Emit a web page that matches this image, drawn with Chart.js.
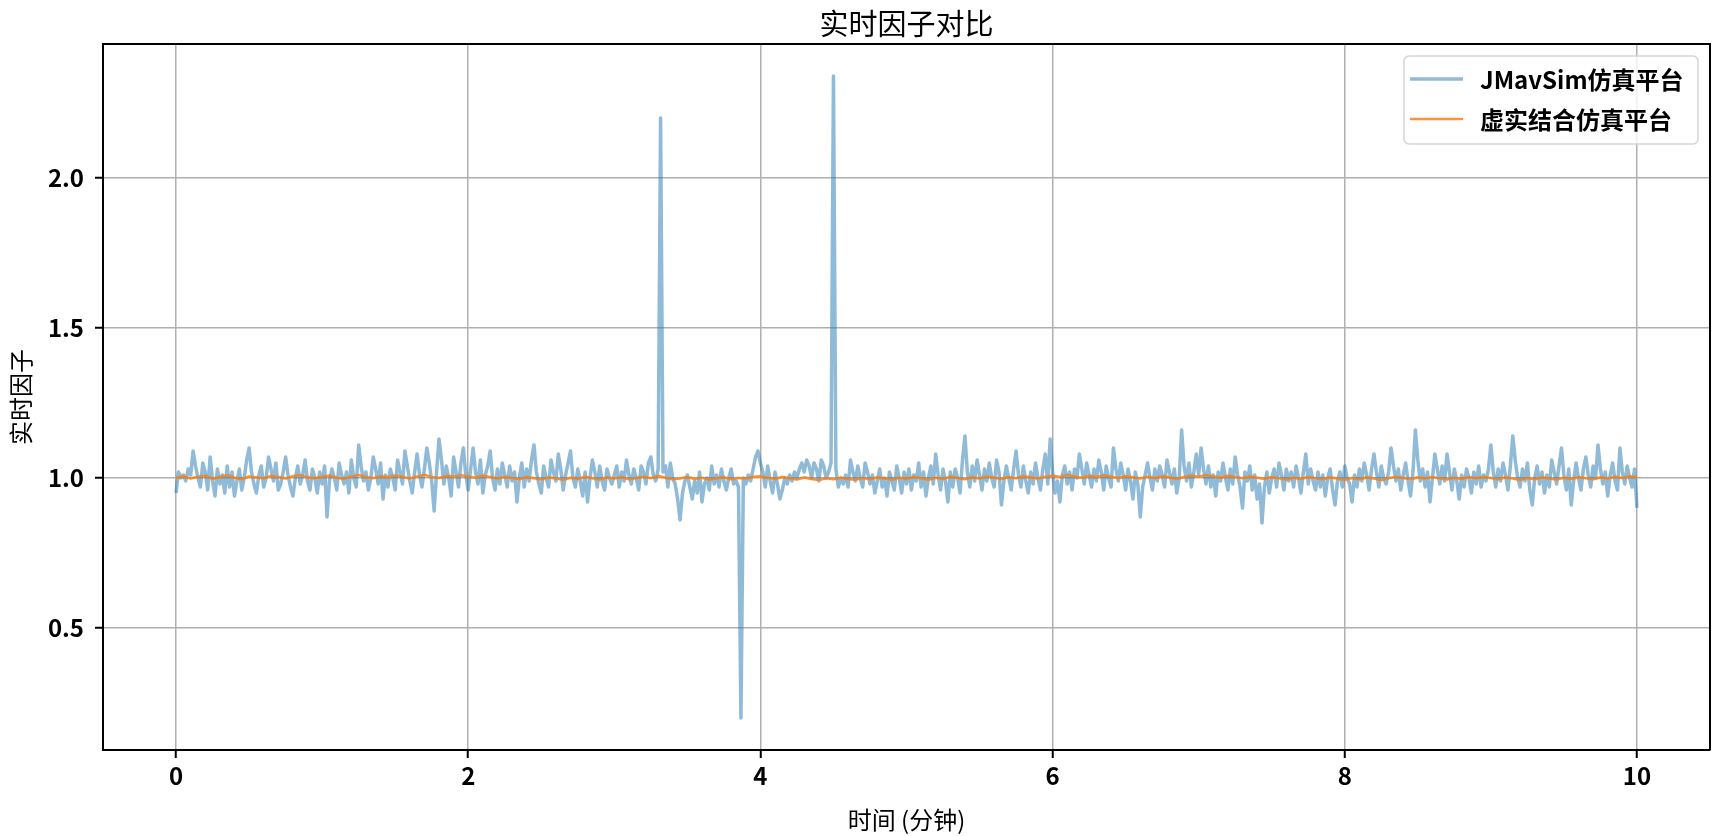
<!DOCTYPE html>
<html>
<head>
<meta charset="utf-8">
<script src="https://cdn.jsdelivr.net/npm/chart.js@4/dist/chart.umd.min.js"></script>
<style>
  html, body { margin: 0; padding: 0; background: #fff; }
  #wrap { width: 1719px; height: 836px; }
</style>
</head>
<body>
<div id="wrap"><canvas id="c" width="1719" height="836"></canvas></div>
<script>
// ---------------- DATA ----------------
const TITLE = '实时因子对比';
const X_LABEL = '时间 (分钟)';
const Y_LABEL = '实时因子';
const SERIES_NAMES = ['JMavSim仿真平台', '虚实结合仿真平台'];

const X_TICKS = [0, 2, 4, 6, 8, 10];
const Y_TICKS = [0.5, 1.0, 1.5, 2.0];

// JMavSim: one sample per second (minutes 0 .. 10)
const JMAVSIM_STEP_MIN = 1 / 60;
const jmavsimValues = [
  0.95,1.02,1.00,1.01,0.99,1.03,1.01,1.09,1.04,1.00,
  0.97,1.05,1.02,0.96,1.07,0.99,0.94,1.03,0.98,1.01,
  0.95,1.04,0.97,1.02,0.94,0.99,1.03,0.96,1.00,1.06,
  1.10,1.02,0.98,0.95,1.01,1.04,0.97,1.00,1.07,1.03,
  0.99,1.05,0.96,0.98,1.02,1.07,1.01,0.97,0.94,1.00,
  1.04,0.98,1.01,1.06,0.99,0.96,1.03,1.00,0.95,1.02,
  0.98,1.04,0.87,0.99,1.03,1.00,0.96,1.05,1.01,0.98,
  1.02,0.95,1.06,1.00,0.97,1.11,1.04,0.99,1.02,0.96,
  1.00,1.07,1.03,0.98,1.05,0.93,1.01,0.97,1.03,1.00,
  0.96,1.06,1.02,0.98,1.09,1.04,0.99,0.95,1.02,1.08,
  1.01,0.97,1.03,1.10,1.05,0.99,0.89,1.02,1.13,1.06,
  0.98,1.04,1.00,0.94,1.07,1.02,0.97,1.05,1.10,1.01,
  0.96,1.03,1.10,1.02,0.98,1.06,0.95,1.01,1.04,1.09,
  1.00,0.96,1.03,0.98,1.05,1.01,0.97,1.04,0.99,1.02,
  0.92,1.00,1.05,0.97,1.03,0.99,1.06,1.11,1.02,0.98,
  0.95,1.04,1.00,0.97,1.06,1.02,0.99,1.08,1.03,0.96,
  1.01,1.05,1.09,1.00,0.97,1.03,0.99,0.94,1.02,0.92,
  1.00,1.06,1.02,0.97,1.04,0.99,0.96,1.03,1.00,0.98,
  1.01,1.04,0.97,1.02,0.99,1.06,1.01,0.98,1.03,1.00,
  0.96,1.04,1.02,0.98,1.05,1.07,1.01,0.99,1.03,2.20,
  1.02,1.04,0.97,1.05,1.00,0.98,0.93,0.86,0.95,0.99,
  1.01,0.97,0.93,0.99,0.95,1.02,0.92,0.98,1.00,0.96,
  1.04,0.98,1.01,0.97,1.03,0.99,0.96,1.00,1.03,0.98,
  0.99,0.97,0.20,1.00,0.98,1.01,0.99,1.03,1.07,1.09,
  1.05,1.02,0.97,1.04,0.99,0.95,1.02,0.98,0.93,0.96,
  1.00,0.98,1.01,0.99,1.02,1.00,1.03,1.05,1.02,1.06,
  1.04,1.00,1.05,1.03,0.99,1.06,1.04,1.00,1.02,1.05,
  2.34,1.03,0.97,1.00,0.98,1.01,0.97,1.06,1.02,0.99,
  1.04,1.00,0.97,1.05,1.02,0.98,1.01,0.95,0.99,1.03,
  0.97,1.00,0.94,1.02,0.99,0.96,1.04,1.00,0.95,1.02,
  0.98,1.03,0.96,1.01,0.99,1.05,0.97,1.02,0.94,1.00,
  1.04,0.98,1.08,1.01,0.96,1.03,0.99,0.92,1.02,0.97,
  1.03,1.00,0.95,1.06,1.14,1.02,0.97,1.04,0.99,1.06,
  1.01,0.96,1.03,0.99,1.05,1.00,0.97,1.06,1.02,0.91,
  0.99,1.04,1.00,0.96,1.03,1.09,1.01,0.97,1.04,0.99,
  0.95,1.02,0.98,1.05,1.00,0.96,1.03,1.08,0.98,1.13,
  1.02,0.95,0.99,0.92,1.01,1.04,0.98,1.02,0.96,1.03,
  1.00,1.08,1.03,0.98,1.05,1.01,0.97,1.03,0.99,1.06,
  1.02,0.96,1.04,1.00,0.97,1.10,1.03,0.99,1.05,1.01,
  0.96,1.03,0.99,0.93,1.02,0.98,0.87,0.97,1.01,1.05,
  1.00,0.96,1.03,0.99,1.04,1.01,0.97,1.06,1.02,0.98,
  1.03,0.95,1.00,1.16,1.04,0.99,1.05,0.97,1.02,1.08,
  1.01,1.10,1.03,0.98,1.04,0.97,1.01,0.94,1.02,0.99,
  1.05,1.00,0.96,1.03,0.98,1.07,1.01,0.97,0.90,1.02,
  0.99,1.04,0.96,1.01,0.93,0.98,0.85,0.97,1.02,0.95,
  1.00,1.03,0.97,1.05,1.01,0.96,1.03,0.99,1.02,0.97,
  1.04,1.00,0.95,1.02,1.08,0.98,1.03,0.99,0.96,1.02,
  0.97,1.01,0.94,1.00,1.03,0.96,0.91,0.99,1.02,0.97,
  1.04,1.00,0.98,0.92,1.01,0.97,1.03,0.99,1.05,1.01,
  0.96,1.03,1.08,1.02,0.97,1.04,1.00,0.98,1.02,1.10,
  1.04,0.99,1.03,0.96,1.01,1.05,0.99,0.94,1.02,1.16,
  1.06,0.99,1.03,0.97,1.02,0.92,1.00,1.08,1.03,0.98,
  1.04,0.99,1.08,1.02,0.96,1.03,0.99,0.93,1.01,0.97,
  1.03,1.00,0.95,1.02,0.98,1.04,0.97,1.01,0.99,1.03,
  1.11,1.02,0.97,1.03,0.99,1.05,1.01,0.96,1.04,1.14,
  1.06,1.00,0.97,1.03,0.99,1.05,0.96,0.91,1.00,1.04,
  0.98,1.02,0.95,1.01,0.97,1.06,1.02,0.98,1.04,1.10,
  1.01,0.96,1.03,0.91,0.99,1.05,1.00,0.96,1.03,1.07,
  1.01,0.97,1.04,1.00,1.11,1.03,0.98,1.02,0.94,1.01,
  1.05,0.99,0.96,1.10,1.02,0.98,1.04,1.00,0.97,1.03,
  0.90
];

// 虚实结合: one sample every 3 seconds (minutes 0 .. 10)
const HYBRID_STEP_MIN = 3 / 60;
const hybridValues = [
  1.000,1.006,0.998,1.004,1.008,0.997,1.003,1.009,1.001,0.996,1.005,1.002,0.999,1.007,1.003,0.998,1.006,1.010,1.002,0.999,
  1.004,1.008,1.001,0.997,1.005,1.010,1.003,0.999,1.006,1.002,1.008,1.004,0.998,1.005,1.011,1.003,1.000,1.007,1.004,1.009,
  1.005,1.001,1.008,1.003,0.998,1.004,1.000,0.996,1.003,0.999,0.995,1.002,0.998,0.994,1.001,0.997,1.004,0.999,0.995,1.002,
  0.998,1.003,0.996,1.000,1.005,0.999,1.007,1.001,0.996,0.998,1.003,0.997,1.001,0.995,0.999,1.002,0.996,1.000,0.998,1.004,
  1.006,1.001,0.997,1.003,0.999,0.995,1.002,0.997,0.993,0.999,0.996,1.001,0.997,0.994,1.000,0.996,1.002,0.998,0.995,1.001,
  0.997,1.003,0.999,0.994,1.001,0.997,1.004,1.000,0.996,1.002,0.998,1.005,1.001,0.997,1.003,0.999,1.006,1.002,0.998,1.004,
  1.008,1.003,1.010,1.005,1.001,1.007,1.003,1.009,1.004,1.000,1.006,1.002,0.998,1.004,1.000,1.006,1.002,0.997,1.003,1.008,
  1.004,1.010,1.006,1.001,1.007,1.003,0.999,1.005,1.001,0.997,1.003,0.999,0.995,1.001,0.997,1.003,0.999,0.996,1.002,0.998,
  0.994,1.000,0.996,1.002,0.998,0.993,0.999,1.004,1.000,0.996,1.002,0.998,1.003,0.999,0.995,1.001,0.997,1.003,0.999,1.004,
  1.000,0.996,1.002,0.998,0.994,1.000,0.996,1.002,0.998,0.995,1.001,0.997,1.003,0.999,0.996,1.002,0.998,1.004,1.000,1.006,
  1.003
];

// ---------------- STYLE ----------------
const FONT = "'Noto Sans CJK SC', 'Noto Sans', 'DejaVu Sans', sans-serif";
const BLUE = 'rgba(31,119,180,0.5)';
const ORANGE = 'rgba(255,127,14,0.85)';
const TICK_SIZE = 24;
const LABEL_SIZE = 24;
const TITLE_SIZE = 29;
const LEGEND_SIZE = 24;

// y range: data span with 5% margins
const allY = jmavsimValues.concat(hybridValues);
const yMinData = Math.min(...allY), yMaxData = Math.max(...allY);
const yPad = (yMaxData - yMinData) * 0.05;

const toPoints = (vals, step) => vals.map((v, i) => ({ x: i * step, y: v }));

const framePlugin = {
  id: 'frame',
  afterDatasetsDraw(chart) {
    const { ctx, chartArea: a } = chart;
    ctx.save();
    // top & right spines
    ctx.strokeStyle = '#000';
    ctx.lineWidth = 2;
    ctx.beginPath();
    ctx.moveTo(a.left, a.top);
    ctx.lineTo(a.right, a.top);
    ctx.lineTo(a.right, a.bottom);
    ctx.stroke();

    // title centred over the axes
    ctx.fillStyle = '#000';
    ctx.font = `normal ${TITLE_SIZE}px ${FONT}`;
    ctx.textAlign = 'center';
    ctx.textBaseline = 'middle';
    ctx.fillText(TITLE, (a.left + a.right) / 2, a.top - 20);

    // legend (matplotlib style, upper right inside axes)
    const w = 294, h = 88;
    const x0 = a.right - 12 - w, y0 = a.top + 12;
    const r = 5;
    ctx.beginPath();
    ctx.moveTo(x0 + r, y0);
    ctx.lineTo(x0 + w - r, y0);
    ctx.arcTo(x0 + w, y0, x0 + w, y0 + r, r);
    ctx.lineTo(x0 + w, y0 + h - r);
    ctx.arcTo(x0 + w, y0 + h, x0 + w - r, y0 + h, r);
    ctx.lineTo(x0 + r, y0 + h);
    ctx.arcTo(x0, y0 + h, x0, y0 + h - r, r);
    ctx.lineTo(x0, y0 + r);
    ctx.arcTo(x0, y0, x0 + r, y0, r);
    ctx.closePath();
    ctx.fillStyle = 'rgba(255,255,255,0.8)';
    ctx.fill();
    ctx.strokeStyle = '#d6d6d6';
    ctx.lineWidth = 1.5;
    ctx.stroke();

    const colors = [BLUE, ORANGE];
    const widths = [3.5, 2.6];
    ctx.font = `bold ${LEGEND_SIZE}px ${FONT}`;
    ctx.textBaseline = 'middle';
    ctx.textAlign = 'left';
    SERIES_NAMES.forEach((name, k) => {
      const yy = y0 + 23 + k * 40;
      ctx.strokeStyle = colors[k];
      ctx.lineWidth = widths[k];
      ctx.beginPath();
      ctx.moveTo(x0 + 6, yy);
      ctx.lineTo(x0 + 59, yy);
      ctx.stroke();
      ctx.fillStyle = '#000';
      ctx.fillText(name, x0 + 76, yy + 1);
    });
    ctx.restore();
  }
};

new Chart(document.getElementById('c'), {
  type: 'line',
  data: {
    datasets: [
      {
        label: SERIES_NAMES[0],
        data: toPoints(jmavsimValues, JMAVSIM_STEP_MIN),
        borderColor: BLUE,
        borderWidth: 3.5,
        pointRadius: 0,
        tension: 0,
        borderJoinStyle: 'round',
        order: 2
      },
      {
        label: SERIES_NAMES[1],
        data: toPoints(hybridValues, HYBRID_STEP_MIN),
        borderColor: ORANGE,
        borderWidth: 2.6,
        pointRadius: 0,
        tension: 0,
        borderJoinStyle: 'round',
        order: 1
      }
    ]
  },
  options: {
    responsive: false,
    animation: false,
    events: [],
    layout: { padding: { left: 0, right: 9, top: 44, bottom: 0 } },
    plugins: {
      legend: { display: false },
      tooltip: { enabled: false },
      title: { display: false }
    },
    scales: {
      x: {
        type: 'linear',
        min: -0.5,
        max: 10.5,
        afterBuildTicks: s => { s.ticks = X_TICKS.map(v => ({ value: v })); },
        afterFit: s => { s.height = 86; },
        ticks: {
          color: '#000',
          font: { family: FONT, size: TICK_SIZE, weight: 'bold' },
          padding: 3,
          maxRotation: 0,
          autoSkip: false,
          callback: v => String(v)
        },
        grid: { color: '#b0b0b0', lineWidth: 1.5, tickColor: '#000', tickLength: 8, tickWidth: 2 },
        border: { color: '#000', width: 2 },
        title: {
          display: true, text: X_LABEL, color: '#000',
          font: { family: FONT, size: LABEL_SIZE, weight: 'normal' },
          padding: { top: 0, bottom: 2 }
        }
      },
      y: {
        type: 'linear',
        min: yMinData - yPad,
        max: yMaxData + yPad,
        afterBuildTicks: s => { s.ticks = Y_TICKS.map(v => ({ value: v })); },
        afterFit: s => { s.width = 103; },
        ticks: {
          color: '#000',
          font: { family: FONT, size: TICK_SIZE, weight: 'bold' },
          padding: 11,
          autoSkip: false,
          callback: v => v.toFixed(1)
        },
        grid: { color: '#b0b0b0', lineWidth: 1.5, tickColor: '#000', tickLength: 8, tickWidth: 2 },
        border: { color: '#000', width: 2 },
        title: {
          display: true, text: Y_LABEL, color: '#000',
          font: { family: FONT, size: LABEL_SIZE, weight: 'normal' },
          padding: { top: 6, bottom: 0 }
        }
      }
    }
  },
  plugins: [framePlugin]
});
</script>
</body>
</html>
